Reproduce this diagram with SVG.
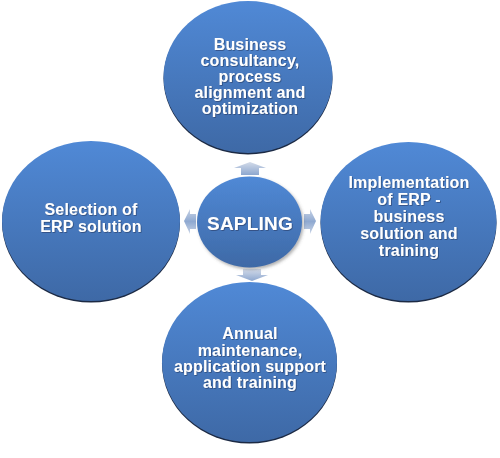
<svg xmlns="http://www.w3.org/2000/svg" width="500" height="458" viewBox="0 0 500 458">
<defs>
<linearGradient id="blue" x1="0" y1="0" x2="0" y2="1">
<stop offset="0" stop-color="#5089d6"/>
<stop offset="1" stop-color="#3e69a6"/>
</linearGradient>
<linearGradient id="arrV" x1="0" y1="0" x2="0" y2="1">
<stop offset="0" stop-color="#d3dbe9"/>
<stop offset="1" stop-color="#8da7cf"/>
</linearGradient>
<linearGradient id="arrH" x1="0" y1="0" x2="0" y2="1">
<stop offset="0" stop-color="#c9d4e6"/>
<stop offset="0.5" stop-color="#8fa9d1"/>
<stop offset="1" stop-color="#c9d4e6"/>
</linearGradient>
<filter id="ts" x="-10%" y="-20%" width="120%" height="150%">
<feDropShadow dx="0.8" dy="0.8" stdDeviation="0.6" flood-color="#1d2f50" flood-opacity="0.6"/>
</filter>
<filter id="cs" x="-10%" y="-10%" width="125%" height="125%">
<feDropShadow dx="1.5" dy="2" stdDeviation="1.5" flood-color="#555" flood-opacity="0.45"/>
</filter>
</defs>
<style>
.circ{fill:url(#blue);}
.rim{fill:#1c2a44;}
.lbl{font-family:"Liberation Sans",Arial,sans-serif;font-weight:bold;font-size:16px;fill:#ffffff;text-anchor:middle;filter:url(#ts);letter-spacing:0.2px;}
.big{font-size:19px;}
.arrow{stroke:none;}
</style>
<g id="connectors">
<polygon class="arrow" fill="url(#arrV)" points="250,162 266,168 259,168 259,175 241,175 241,168 234,168"/>
<polygon class="arrow" fill="url(#arrV)" points="252,281 268,275 261,275 261,269 243,269 243,275 236,275"/>
<polygon class="arrow" fill="url(#arrH)" points="184,221 190,209 190,214 196,214 196,229 190,229 190,234"/>
<polygon class="arrow" fill="url(#arrH)" points="316,221 310,209 310,214 304,214 304,229 310,229 310,234"/>
</g>
<g id="top">
<ellipse class="rim" cx="248" cy="78.5" rx="84.5" ry="76"/>
<ellipse class="circ" cx="248" cy="77" rx="84.5" ry="76"/>
<text class="lbl"><tspan x="250" y="50">Business</tspan><tspan x="250" y="66">consultancy,</tspan><tspan x="250" y="82">process</tspan><tspan x="250" y="98">alignment and</tspan><tspan x="250" y="114">optimization</tspan></text>
</g>
<g id="left">
<ellipse class="rim" cx="91" cy="222.5" rx="89" ry="80"/>
<ellipse class="circ" cx="91" cy="221" rx="89" ry="80"/>
<text class="lbl"><tspan x="91" y="215">Selection of</tspan><tspan x="91" y="232">ERP solution</tspan></text>
</g>
<g id="right">
<ellipse class="rim" cx="408.5" cy="223" rx="88" ry="79.5"/>
<ellipse class="circ" cx="408.5" cy="221.5" rx="88" ry="79.5"/>
<text class="lbl"><tspan x="409" y="188">Implementation</tspan><tspan x="409" y="205">of ERP -</tspan><tspan x="409" y="222">business</tspan><tspan x="409" y="239">solution and</tspan><tspan x="409" y="256">training</tspan></text>
</g>
<g id="bottom">
<ellipse class="rim" cx="249.5" cy="363.5" rx="87.5" ry="80"/>
<ellipse class="circ" cx="249.5" cy="362" rx="87.5" ry="80"/>
<text class="lbl"><tspan x="250" y="339">Annual</tspan><tspan x="250" y="356">maintenance,</tspan><tspan x="250" y="372">application support</tspan><tspan x="250" y="388">and training</tspan></text>
</g>
<g id="center">
<ellipse cx="249.5" cy="222" rx="52.5" ry="45.5" fill="url(#blue)" filter="url(#cs)"/>
<text class="lbl big" x="250" y="230">SAPLING</text>
</g>
</svg>
